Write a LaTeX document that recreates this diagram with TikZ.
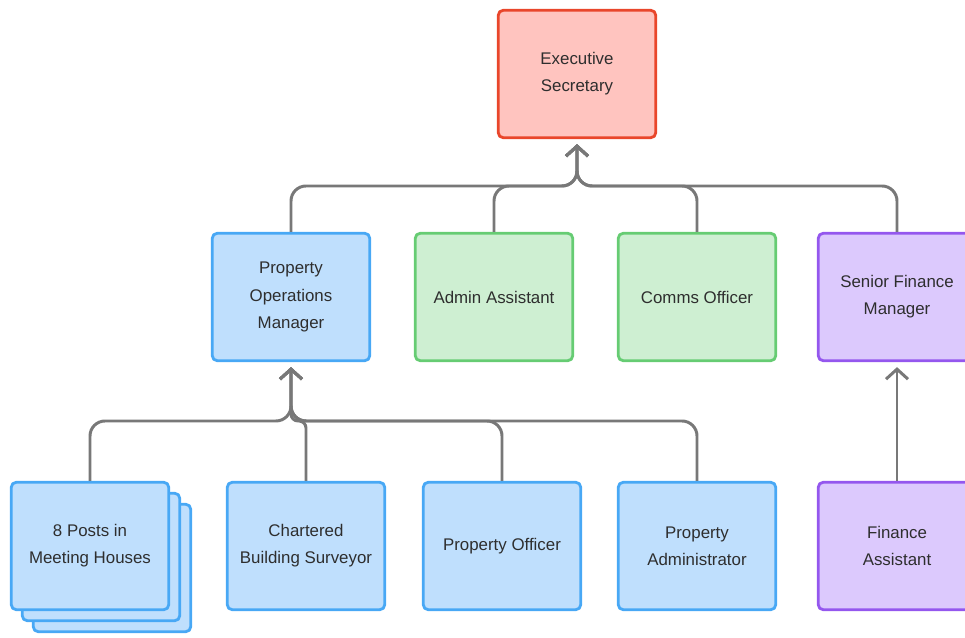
\documentclass[tikz,border=0pt]{standalone}
\usepackage{fontspec}
\setmainfont{Liberation Sans}
\usetikzlibrary{arrows.meta, shadows}

\definecolor{redfill}{HTML}{FFC4BF}
\definecolor{redline}{HTML}{E9462B}
\definecolor{bluefill}{HTML}{BFDFFD}
\definecolor{blueline}{HTML}{48A8F5}
\definecolor{greenfill}{HTML}{CEEFD2}
\definecolor{greenline}{HTML}{66CC73}
\definecolor{purplefill}{HTML}{DCC9FD}
\definecolor{purpleline}{HTML}{9457EE}
\definecolor{linkgrey}{HTML}{787878}
\definecolor{textgrey}{HTML}{2E2E2E}

\tikzset{
	box/.style = {rectangle, rounded corners=0.1cm, line width=1.6pt, minimum width=3.15cm, minimum height=2.55cm, align=center, text=textgrey, font=\fontsize{9.6}{15.5}\selectfont},
	redbox/.style = {box, fill=redfill, draw=redline},
	bluebox/.style = {box, fill=bluefill, draw=blueline},
	greenbox/.style = {box, fill=greenfill, draw=greenline},
	purplebox/.style = {box, fill=purplefill, draw=purpleline},
	link/.style = {draw=linkgrey, line width=1.7pt, rounded corners=0.3cm, -{Straight Barb[length=0.2cm, width=0.44cm]}, shorten >=0.1cm}
}

\begin{document}
\begin{tikzpicture}[x=0.02cm, y=-0.02cm]
		\useasboundingbox (0,0) rectangle (965,638);
		
		\node[redbox] (es) at (577,74) {Executive\\Secretary};
		
		\node[bluebox] (pom) at (291,297) {Property\\Operations\\Manager};
		\node[greenbox] (admin) at (494,297) {Admin Assistant};
		\node[greenbox] (comms) at (697,297) {Comms Officer};
		\node[purplebox] (sfm) at (897,297) {Senior Finance\\Manager};
		
		\node[bluebox, double copy shadow={shadow xshift=0.22cm, shadow yshift=-0.22cm}] (posts) at (90,546) {8 Posts in\\Meeting Houses};
		\node[bluebox] (surveyor) at (306,546) {Chartered\\Building Surveyor};
		\node[bluebox] (officer) at (502,546) {Property Officer};
		\node[bluebox] (padmin) at (697,546) {Property\\Administrator};
		\node[purplebox] (fa) at (897,546) {Finance\\Assistant};
		
		\coordinate (topjoin) at (577,186);
		\coordinate (midjoin) at (291,421);
		
		\draw[link] (pom.north) |- (topjoin) -- (es.south);
		\draw[link] (admin.north) |- (topjoin) -- (es.south);
		\draw[link] (comms.north) |- (topjoin) -- (es.south);
		\draw[link] (sfm.north) |- (topjoin) -- (es.south);
		
		\draw[link] (posts.north) |- (midjoin) -- (pom.south);
		\draw[link, rounded corners=0.14cm] (surveyor.north) |- (midjoin) -- (pom.south);
		\draw[link] (officer.north) |- (midjoin) -- (pom.south);
		\draw[link] (padmin.north) |- (midjoin) -- (pom.south);
		
		\draw[link] (fa.north) -- (sfm.south);
\end{tikzpicture}
\end{document}
